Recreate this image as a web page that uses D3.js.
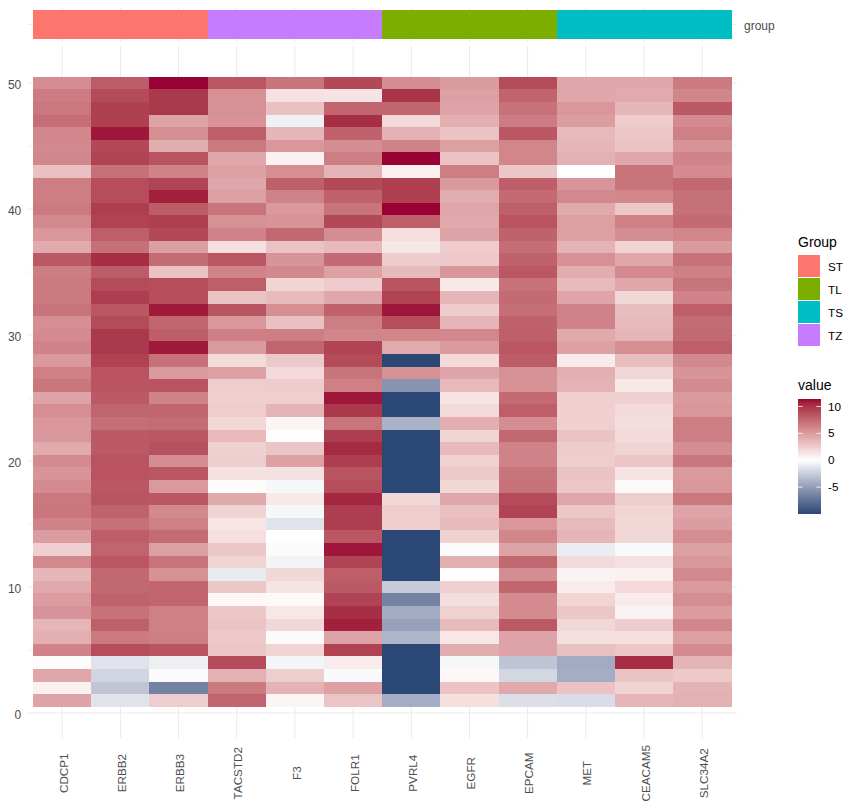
<!DOCTYPE html>
<html><head><meta charset="utf-8">
<script src="https://cdn.jsdelivr.net/npm/d3@7"></script>
<style>
html,body{margin:0;padding:0;background:#fff}
svg{display:block}
text{font-family:"Liberation Sans",Arial,sans-serif}
</style></head><body>
<div id="chart"></div>
<script>
// Row numbers, top of the heatmap first
const rows = d3.range(50, 0, -1);
const genes = ["CDCP1","ERBB2","ERBB3","TACSTD2","F3","FOLR1","PVRL4","EGFR","EPCAM","MET","CEACAM5","SLC34A2"];
const geneGroup = ["ST","ST","ST","TZ","TZ","TZ","TL","TL","TL","TS","TS","TS"];
const groupNames = ["ST","TL","TS","TZ"];
const groupColors = ["#FC766E","#7CAE00","#00BFC4","#C77CFF"];
const yTicks = [0,10,20,30,40,50];
const yMinorTicks = [5,15,25,35,45];
const legendTicks = [-5,0,5,10];

const CDCP1 = [5.7,6.6,6.8,7.3,6,5.9,6,3.1,6.5,6.5,6.7,5.9,5.2,4.2,8.3,6.5,6.7,6.7,7,5.6,5.8,6.2,5.1,6.4,6.9,4.6,5.6,5.2,5.2,4.2,5.8,5.3,5.8,6.8,6.9,6.3,4.9,2.4,5.9,3.6,4.3,4.9,5.4,3.7,4,6.2,-0.15,4.4,0.7,4.6];
const ERBB2 = [8.2,9,9.5,9.5,11,9.1,9.4,7.2,8.9,8.9,9.6,9.4,8.1,7.2,10.3,8.2,9,9.6,8.4,9,9.8,9.8,9.4,8.6,8.5,8.3,7.8,7.3,8.3,8.3,8.6,8.6,8.4,8.5,7.9,7.2,8.1,7.8,8.4,7.6,7.6,7.9,7.1,8,6.7,8.9,-1.4,-2.1,-2.9,-1.4];
const ERBB3 = [11.4,9.8,9.8,4.6,5.6,4.1,8.6,6.3,9.3,10.7,8.2,9.5,9.1,4.8,7.4,3,8.9,8.9,10.9,7.7,8.1,10.9,7.1,5,8.6,6.2,7.7,7.4,8.4,8.7,5.7,8.4,5.1,8.4,5.9,6.4,7.4,4.8,7,5.5,7.7,7.7,6.4,6.4,6.5,8.5,-0.8,-0.2,-6.6,2.5];
const TACSTD2 = [8.4,5.5,5.5,5.4,8.1,6.7,4.4,4.7,4.4,4.8,7,5.5,6.3,1.6,8.4,6.3,8.1,3,8.5,5.2,6.4,5,1.8,4.7,2.5,2.4,2.5,2,3.5,2.3,2.5,1.5,0.2,4.3,2.2,1.3,1.6,2.8,2.2,-1,2.8,0.4,2.8,3,2.7,2.8,9,3.9,6.7,7.8];
const F3 = [7,1.5,3.1,-0.7,3.7,5.2,0.7,5.6,8,6.3,5.1,5.4,7.6,3,5.3,5.9,2.1,3.4,5.6,3.1,6.5,7.7,2.7,1.9,2.6,2.4,3.8,0.5,-0.1,2.9,4.7,1.5,-0.4,1.1,-0.4,-1.4,0,-0.2,-0.6,2,1.4,0.3,1.2,2,-0.2,2.2,-0.5,2.5,3.8,0.5];
const FOLR1 = [9.1,1.4,7.7,10.2,7.9,5.7,6.5,3.8,9.1,7.9,7,9.1,5.7,3.5,7.5,4.7,2.6,4.4,7.9,6.5,6.1,9.3,9,7,6.4,11,9.8,7,9.6,10.4,9.6,8.5,8.9,10.5,9.6,9.6,8.4,11,9.3,8.1,8.3,9.3,10.2,10.7,4.6,9.4,1,-0.3,4.7,2.9];
const PVRL4 = [5.7,10,7.7,1.9,3.9,6.3,11.4,0.7,9.5,9.5,11.4,8,1.6,1.2,2.6,3.4,8.5,9.4,11,8.9,6.1,4.2,-10,5.5,-5.6,-10,-10,-3.9,-10,-10,-10,-10,-10,2,2.5,2.5,-10,-10,-10,-10,-2.6,-6.6,-4.3,-4.9,-3.7,-10,-10,-10,-10,-4.2];
const EGFR = [5,4.7,4.6,4,3,4.8,3,6.5,5.1,4.1,4.5,4.3,4.6,2.6,2.7,5.2,1.1,3.7,2.6,3.7,6,5,1.9,4.5,3.5,1.4,1.9,4,2.1,3.4,2.3,2.7,2,4.4,3.2,3.4,2.3,-0.2,4,0.1,2.4,1.7,2.3,3.4,1.2,4.1,-0.4,0.4,3,1.6];
const EPCAM = [9,7.8,7.1,6.6,8.4,6.1,6.1,2.8,8.1,7.5,8,8.6,7.9,7.3,7.9,8.4,7.1,7.5,7.3,7.9,8,8.4,8.2,5.5,5.5,7.5,8.1,5.7,7.6,6.3,6.3,7,7.1,9,9.3,5.2,6.1,4.6,7.6,5.7,7.7,5.8,5.8,8.3,4.6,4.6,-2.9,-2,4.3,-1.6];
const MET = [4.4,4.4,5.2,4.9,3.5,3.7,3.9,0,5.3,5.9,4.3,4.8,4.7,3.8,5.5,4.1,3.4,4.5,6.3,6.3,4.3,4.7,1,4,3.8,2.4,2.4,2.4,3,2.6,2.5,3,2.8,4.4,2.8,3.4,3.7,-0.9,1.8,0.6,1,2.1,2.8,2,1.6,3.1,-4.3,-4.2,3,-1.7];
const CEACAM5 = [4.4,4.2,3.6,2.6,2.8,3,4.4,7,7,6,2.8,6.4,5.7,2.2,4.4,5.8,4.4,2,3.3,3.4,3.7,5.6,3.3,2,1.1,2.4,1.8,1.7,1.8,2.2,2.9,1.4,0.3,2.5,2.1,2,2,-0.3,1.5,0.7,1.9,1,0.6,2.6,1.6,2.8,10.3,3,2.2,3.7];
const SLC34A2 = [6.7,6.1,8.3,5.8,6.4,5.4,6.2,5.8,7.6,7.2,7.2,7.5,6.1,5,7.1,6.4,7,6.2,8.1,7.4,7.6,8.1,5.9,5.3,5.8,5,5.2,6.5,6.5,5.7,6.9,5.1,5.2,6.8,4.6,4.9,5.7,4.8,5.2,5.9,5.1,5.7,4.9,6.1,4.8,5.8,3.8,2.7,3.8,3.9];
const geneValues = [CDCP1,ERBB2,ERBB3,TACSTD2,F3,FOLR1,PVRL4,EGFR,EPCAM,MET,CEACAM5,SLC34A2];

const W = 858, H = 809;
const panel = {left:27.3, right:737.1, top:45.2, bottom:738.2};
const stripPanel = {top:7.2, bottom:41.6};
const grid = "#EBEBEB", axisText = "#4D4D4D";
const valMin = -10, valMax = 11.4;

const x = d3.scalePoint().domain(genes).range([panel.left, panel.right]).padding(0.6);
const step = x.step();
const y = d3.scaleLinear().domain([-2, 53]).range([panel.bottom, panel.top]);
const yStrip = d3.scaleBand().domain(["group"]).range([stripPanel.top, stripPanel.bottom]).paddingOuter(0.1);
const color = d3.scaleLinear().domain([valMin, 0, valMax]).range(["#2B4775","#FFFFFF","#990033"]).interpolate(d3.interpolateLab).clamp(true);
const groupColor = d3.scaleOrdinal().domain(groupNames).range(groupColors);

const svg = d3.select("#chart").append("svg").attr("width", W).attr("height", H);

// ---- annotation strip
const gStrip = svg.append("g");
gStrip.selectAll("line.v").data(genes).join("line").attr("class","v")
  .attr("x1", d=>x(d)).attr("x2", d=>x(d)).attr("y1", stripPanel.top).attr("y2", stripPanel.bottom)
  .attr("stroke", grid).attr("stroke-width", 1);
gStrip.append("line").attr("x1", panel.left).attr("x2", panel.right)
  .attr("y1", yStrip("group")+yStrip.bandwidth()/2).attr("y2", yStrip("group")+yStrip.bandwidth()/2)
  .attr("stroke", grid).attr("stroke-width", 1);
gStrip.selectAll("rect").data(genes).join("rect")
  .attr("x", d=>x(d)-step/2).attr("width", step+0.4)
  .attr("y", yStrip("group")).attr("height", yStrip.bandwidth())
  .attr("fill", (d,i)=>groupColor(geneGroup[i])).attr("shape-rendering","crispEdges");
svg.append("text").attr("x", 744).attr("y", yStrip("group")+yStrip.bandwidth()/2+5.5)
  .attr("font-size", 12).attr("fill", axisText).text("group");

// ---- heatmap grid
const gGrid = svg.append("g");
gGrid.selectAll("line.v").data(genes).join("line").attr("class","v")
  .attr("x1", d=>x(d)).attr("x2", d=>x(d)).attr("y1", panel.top).attr("y2", panel.bottom)
  .attr("stroke", grid).attr("stroke-width", 1);
gGrid.selectAll("line.h").data(yTicks).join("line").attr("class","h")
  .attr("x1", panel.left).attr("x2", panel.right).attr("y1", d=>y(d)).attr("y2", d=>y(d))
  .attr("stroke", grid).attr("stroke-width", 1);
gGrid.selectAll("line.m").data(yMinorTicks).join("line").attr("class","m")
  .attr("x1", panel.left).attr("x2", panel.right).attr("y1", d=>y(d)).attr("y2", d=>y(d))
  .attr("stroke", grid).attr("stroke-width", 0.6);

// ---- heatmap tiles
const cells = genes.flatMap((g,i)=>rows.map((r,j)=>({gene:g,row:r,value:geneValues[i][j]})));
svg.append("g").selectAll("rect").data(cells).join("rect")
  .attr("x", d=>x(d.gene)-step/2).attr("width", step+0.4)
  .attr("y", d=>y(d.row+0.5)).attr("height", y(0)-y(1)+0.4)
  .attr("fill", d=>color(d.value)).attr("shape-rendering","crispEdges");

// ---- axes
const yAxis = svg.append("g").attr("transform", `translate(${panel.left},1.2)`)
  .call(d3.axisLeft(y).tickValues(yTicks).tickSize(0).tickPadding(6));
yAxis.select(".domain").remove();
yAxis.selectAll("text").attr("font-size", 12).attr("fill", axisText).style("font-family", '"Liberation Sans",Arial,sans-serif');

const xAxis = svg.append("g").attr("transform", `translate(0,${panel.bottom})`)
  .call(d3.axisBottom(x).tickSize(0));
xAxis.select(".domain").remove();
xAxis.selectAll("text")
  .attr("transform", "translate(1,35) rotate(-90)")
  .attr("x", 0).attr("y", 0).attr("dy", "0.35em")
  .attr("text-anchor", "middle")
  .attr("font-size", 11.7).attr("fill", axisText).style("font-family", '"Liberation Sans",Arial,sans-serif');

// ---- Group legend
const legX = 798;
svg.append("text").attr("x", legX).attr("y", 247).attr("font-size", 14).attr("fill", "#000").text("Group");
const keyY = d3.scalePoint().domain(groupNames).range([255, 324]);
const legend = svg.append("g").selectAll("g").data(groupNames).join("g")
  .attr("transform", d=>`translate(${legX},${keyY(d)})`);
legend.append("rect").attr("width", 22).attr("height", 22).attr("fill", d=>groupColor(d));
legend.append("text").attr("x", 30).attr("y", 15.5).attr("font-size", 11.7).attr("fill", "#000").text(d=>d);

// ---- value colourbar
svg.append("text").attr("x", legX).attr("y", 390).attr("font-size", 14).attr("fill", "#000").text("value");
const barY = d3.scaleLinear().domain([valMin, valMax]).range([514, 399]);
const defs = svg.append("defs");
const grad = defs.append("linearGradient").attr("id","bar").attr("x1",0).attr("x2",0).attr("y1",1).attr("y2",0);
grad.selectAll("stop").data(d3.range(0,1.0001,0.02)).join("stop")
  .attr("offset", d=>d).attr("stop-color", d=>color(valMin+d*(valMax-valMin)));
svg.append("rect").attr("x", legX).attr("y", 399).attr("width", 23).attr("height", 115).attr("fill","url(#bar)");
const barTicks = svg.append("g").selectAll("g").data(legendTicks).join("g")
  .attr("transform", d=>`translate(${legX},${barY(d)})`);
barTicks.append("line").attr("x1",0).attr("x2",4.6).attr("stroke","#fff").attr("stroke-width",0.8);
barTicks.append("line").attr("x1",18.4).attr("x2",23).attr("stroke","#fff").attr("stroke-width",0.8);
barTicks.append("text").attr("x",30).attr("y",4).attr("font-size",11.7).attr("fill","#000").text(d=>d);
</script>
</body></html>
